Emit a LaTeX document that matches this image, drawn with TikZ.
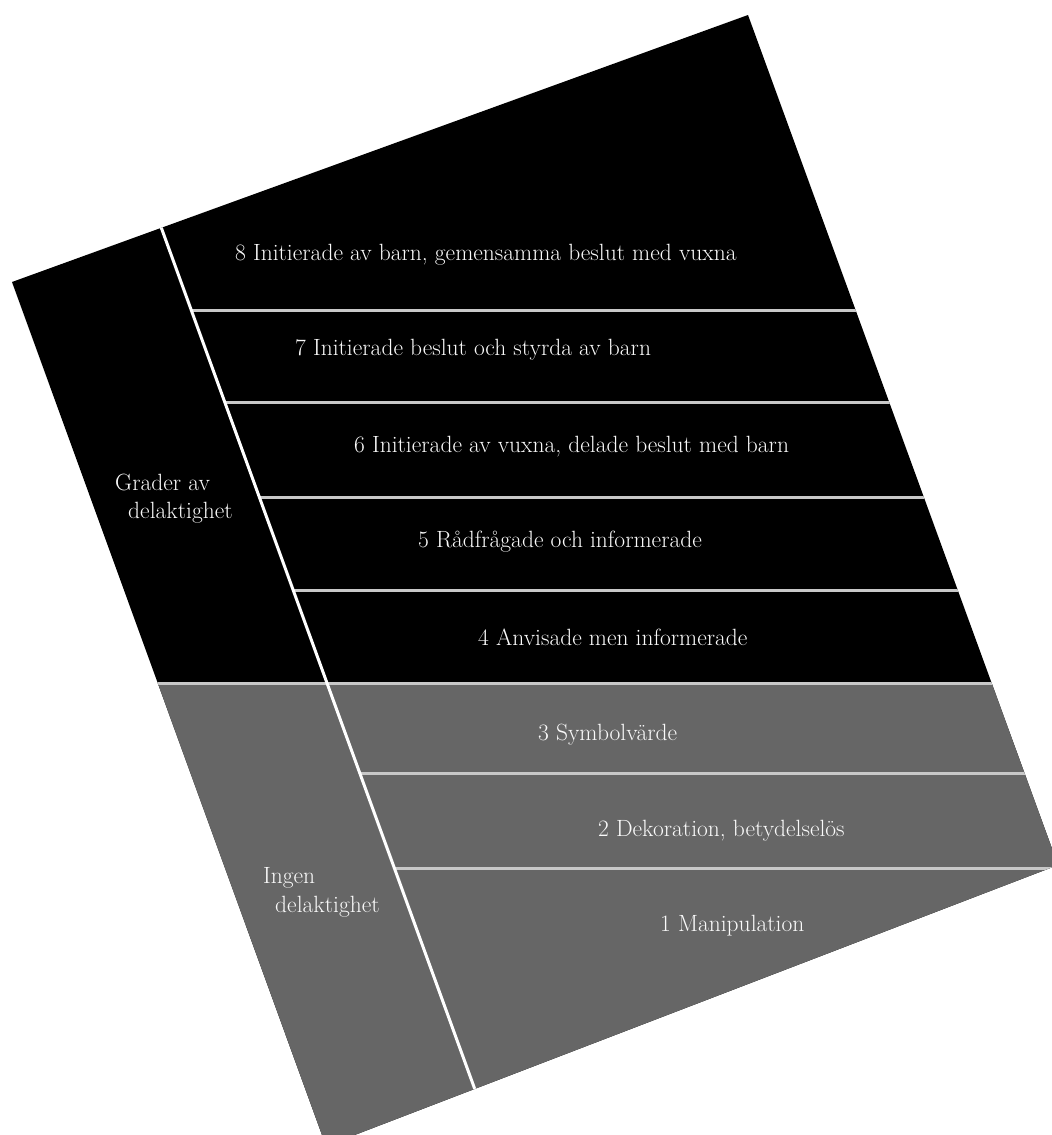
\documentclass[tikz,border=0pt]{standalone}
\definecolor{lowgray}{RGB}{102,102,102}
\definecolor{sepgray}{RGB}{200,200,200}
\definecolor{txt}{RGB}{250,250,250}
\begin{document}
\begin{tikzpicture}[x=1pt,y=-1pt,
  lab/.style={text=txt,font=\fontsize{23.5}{28}\selectfont,anchor=base west,inner sep=0pt},
  sepline/.style={draw=sepgray,line width=3pt},
  divline/.style={draw=white,line width=3pt}]
\useasboundingbox (0,0) rectangle (1052,1135);
\coordinate (TL) at (12,282);
\coordinate (T) at (748,15);
\coordinate (R) at (1058,865);
\coordinate (B) at (326,1146);
\coordinate (DT) at (150.1,197);
\coordinate (DB) at (491.5,1135);
\begin{scope}
\clip (0,0) rectangle (1052,1135);
\fill[black] (TL) -- (T) -- (R) -- (B) -- cycle;
\begin{scope}
\clip (TL) -- (T) -- (R) -- (B) -- cycle;
\fill[lowgray] (0,683) rectangle (1100,1200);
\draw[sepline] (0,683) -- (1100,683);
\draw[sepline] (191.2,310) -- (1100,310);
\draw[sepline] (224.7,402) -- (1100,402);
\draw[sepline] (259.3,497) -- (1100,497);
\draw[sepline] (293.1,590) -- (1100,590);
\draw[sepline] (359.7,773) -- (1100,773);
\draw[sepline] (394.3,868) -- (1100,868);
\draw[divline] (DT) -- (DB);
\end{scope}
\end{scope}
\node[lab] (r8) at (235,260) {8 Initierade av barn, gemensamma beslut med vuxna};
\node[lab] (r7) at (295,355) {7 Initierade beslut och styrda av barn};
\node[lab] (r6) at (354,452) {6 Initierade av vuxna, delade beslut med barn};
\node[lab] (r5) at (418,547) {5 Rådfrågade och informerade};
\node[lab] (r4) at (478,645) {4 Anvisade men informerade};
\node[lab] (r3) at (538,740) {3 Symbolvärde};
\node[lab] (r2) at (598,836) {2 Dekoration, betydelselös};
\node[lab] (r1) at (660,931) {1 Manipulation};
\node[lab] (ga1) at (115,490) {Grader av};
\node[lab] (ga2) at (128,518) {delaktighet};
\node[lab] (gb1) at (263,883) {Ingen};
\node[lab] (gb2) at (275,912) {delaktighet};
\end{tikzpicture}
\end{document}
